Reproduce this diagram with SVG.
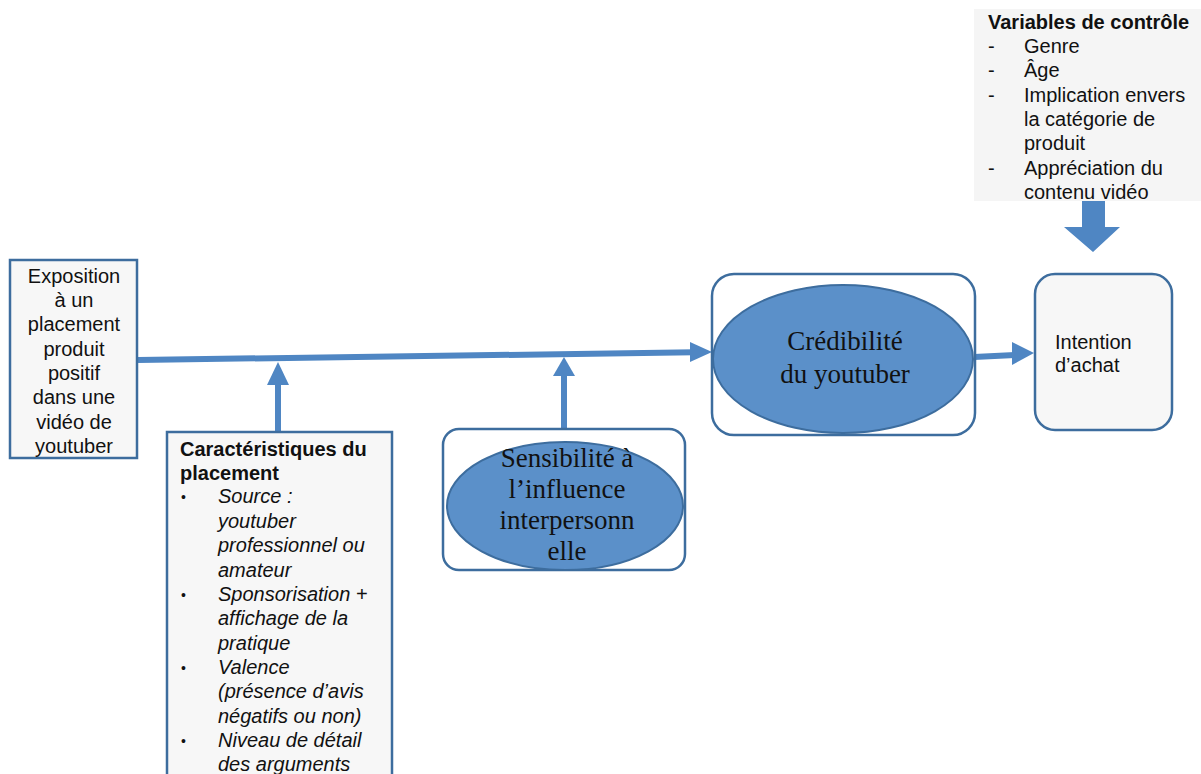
<svg xmlns="http://www.w3.org/2000/svg" width="1201" height="774" viewBox="0 0 1201 774">
<style>
.box{fill:#f7f7f7;stroke:#3d6d9e;stroke-width:2.5}
.rbox{fill:#ffffff;stroke:#3d6d9e;stroke-width:2.5}
.ell{fill:#5b90c9;stroke:#3d6d9e;stroke-width:2}
.sans{font-family:"Liberation Sans",Arial,sans-serif;font-size:20px;fill:#111}
.serif{font-family:"Liberation Serif","Times New Roman",serif;font-size:27px;fill:#111}
.bul{font-size:14px}
.line{stroke:#4f86c3;stroke-width:6;fill:none}
.head{fill:#4f86c3}
</style>
<rect width="1201" height="774" fill="#ffffff"/>
<g id="connectors">
  <line class="line" x1="138" y1="360" x2="694" y2="352.3"/>
  <polygon class="head" points="712,352 690,342 690,362"/>
  <line class="line" x1="278" y1="432" x2="278" y2="380"/>
  <polygon class="head" points="278,362 267,385 289,385"/>
  <line class="line" x1="564" y1="430" x2="564" y2="372"/>
  <polygon class="head" points="564,357 553,376 575,376"/>
  <line class="line" x1="974" y1="357" x2="1015" y2="355"/>
  <polygon class="head" points="1034,353 1012,342 1012,365"/>
  <polygon class="head" points="1082,201 1105,201 1105,227 1120,227 1093,252 1064,227 1082,227"/>
</g>
<g id="exposition">
  <rect class="box" x="10" y="260" width="127" height="198"/>
  <g class="sans" text-anchor="middle">
    <text x="74" y="283">Exposition</text>
    <text x="74" y="307">à un</text>
    <text x="74" y="331">placement</text>
    <text x="74" y="356">produit</text>
    <text x="74" y="380">positif</text>
    <text x="74" y="404">dans une</text>
    <text x="74" y="429">vidéo de</text>
    <text x="74" y="453">youtuber</text>
  </g>
</g>
<g id="caracteristiques">
  <rect class="box" x="167" y="432" width="225" height="360"/>
  <g class="sans">
    <text x="180" y="456" font-weight="bold">Caractéristiques du</text>
    <text x="180" y="480" font-weight="bold">placement</text>
    <text class="bul" x="181" y="502">•</text>
    <text x="218" y="503" font-style="italic">Source :</text>
    <text x="218" y="528" font-style="italic">youtuber</text>
    <text x="218" y="552" font-style="italic">professionnel ou</text>
    <text x="218" y="577" font-style="italic">amateur</text>
    <text class="bul" x="181" y="600">•</text>
    <text x="218" y="601" font-style="italic">Sponsorisation +</text>
    <text x="218" y="625" font-style="italic">affichage de la</text>
    <text x="218" y="650" font-style="italic">pratique</text>
    <text class="bul" x="181" y="673">•</text>
    <text x="218" y="674" font-style="italic">Valence</text>
    <text x="218" y="698" font-style="italic">(présence d’avis</text>
    <text x="218" y="723" font-style="italic">négatifs ou non)</text>
    <text class="bul" x="181" y="746">•</text>
    <text x="218" y="747" font-style="italic">Niveau de détail</text>
    <text x="218" y="771" font-style="italic">des arguments</text>
  </g>
</g>
<g id="sensibilite">
  <rect class="rbox" x="443" y="429" width="242" height="141" rx="16"/>
  <ellipse class="ell" cx="565" cy="506" rx="118" ry="64"/>
  <g class="serif" text-anchor="middle">
    <text x="567" y="467">Sensibilité à</text>
    <text x="567" y="498">l’influence</text>
    <text x="567" y="529">interpersonn</text>
    <text x="567" y="560">elle</text>
  </g>
</g>
<g id="credibilite">
  <rect class="rbox" x="712" y="274" width="263" height="161" rx="22"/>
  <ellipse class="ell" cx="843" cy="359" rx="130" ry="74"/>
  <g class="serif" text-anchor="middle">
    <text x="845" y="350">Crédibilité</text>
    <text x="845" y="383">du youtuber</text>
  </g>
</g>
<g id="intention">
  <rect class="box" x="1035" y="274" width="137" height="156" rx="20"/>
  <g class="sans">
    <text x="1055" y="349">Intention</text>
    <text x="1055" y="372">d’achat</text>
  </g>
</g>
<g id="variables">
  <rect x="974" y="9" width="227" height="192" fill="#f5f5f5"/>
  <g class="sans">
    <text x="988" y="29" font-weight="bold">Variables de contrôle</text>
    <text x="988" y="53">-</text>
    <text x="1024" y="53">Genre</text>
    <text x="988" y="77">-</text>
    <text x="1024" y="77">Âge</text>
    <text x="988" y="102">-</text>
    <text x="1024" y="102">Implication envers</text>
    <text x="1024" y="126">la catégorie de</text>
    <text x="1024" y="150">produit</text>
    <text x="988" y="175">-</text>
    <text x="1024" y="175">Appréciation du</text>
    <text x="1024" y="199">contenu vidéo</text>
  </g>
</g>
</svg>
